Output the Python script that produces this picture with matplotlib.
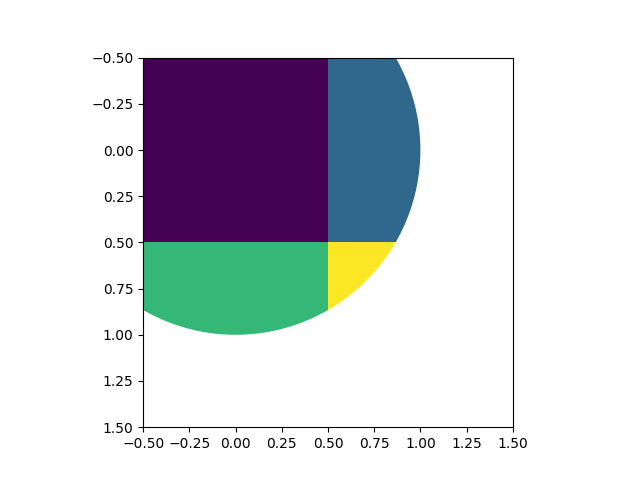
import matplotlib
matplotlib.use("Agg")
import matplotlib.pyplot as plt
import matplotlib.patches as patches
import numpy as np

# 2x2 image values (viridis colormap)
row_top = [0, 1]
row_bottom = [2, 3]

clip_center = (0, 0)
clip_radius = 1.0

fig, ax = plt.subplots(figsize=(6.4, 4.8), dpi=100)
values = np.array([row_top, row_bottom])
im = ax.imshow(values, cmap="viridis")

circle = patches.Circle(clip_center, radius=clip_radius, transform=ax.transData)
im.set_clip_path(circle)

fig.savefig("out.png", dpi=100)
plt.close(fig)
